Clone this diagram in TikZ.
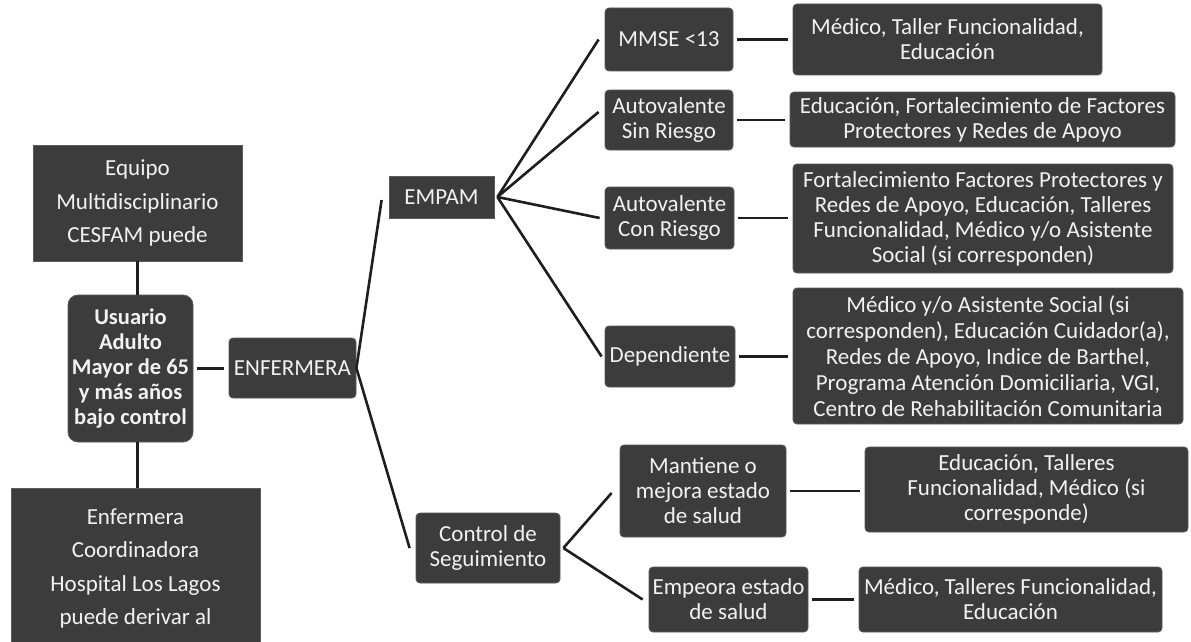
\documentclass[tikz,border=0pt]{standalone}
\usepackage{fontspec}
\setmainfont{Carlito}
\begin{document}
\begin{tikzpicture}[x=1pt,y=-1pt,
  box/.style={fill=boxgray, draw=boxedge, line width=0.8pt, text=boxtext,
    inner sep=0pt, align=center, rounded corners=4pt,
    font=\fontsize{23}{25}\selectfont},
  sharp/.style={rounded corners=0pt},
  wide/.style={font=\fontsize{23}{33.5}\selectfont},
  conn/.style={draw=linecol, line width=2.6pt},
  gap/.style={shorten <=4pt, shorten >=5pt}]
\definecolor{boxgray}{HTML}{3C3C3C}
\definecolor{boxedge}{HTML}{5A5A5A}
\definecolor{boxtext}{HTML}{F2F2F2}
\definecolor{linecol}{HTML}{1E1E1E}
\clip (0,0) rectangle (1191,642);
\fill[white] (0,0) rectangle (1191,642);

% left column
\node[box, sharp, wide, minimum width=209pt, minimum height=116pt] (equipo) at (137.5,203)
  {Equipo\\Multidisciplinario\\CESFAM puede};
\node[box, rounded corners=10pt, font=\fontsize{22.5}{25}\selectfont\bfseries,
  minimum width=125pt, minimum height=147pt] (usuario) at (130.5,368.5)
  {Usuario\\Adulto\\Mayor de 65\\y más años\\bajo control};
\node[box, sharp, wide, minimum width=249pt, minimum height=161pt] (enfcoord) at (135.5,568.5)
  {Enfermera\\Coordinadora\\Hospital Los Lagos\\puede derivar al};
\node[box, minimum width=127pt, minimum height=60pt] (enfermera) at (292.5,368) {ENFERMERA};

% second level
\node[box, sharp, minimum width=105pt, minimum height=42pt] (empam) at (441.5,197) {EMPAM};
\node[box, minimum width=144pt, minimum height=70pt] (control) at (488,548) {Control de\\Seguimiento};

% EMPAM categories
\node[box, minimum width=128pt, minimum height=63pt] (mmse) at (669,39.5) {MMSE <13};
\node[box, minimum width=128pt, minimum height=60pt] (sinriesgo) at (669,120) {Autovalente\\Sin Riesgo};
\node[box, minimum width=129pt, minimum height=62pt] (conriesgo) at (669.5,218) {Autovalente\\Con Riesgo};
\node[box, minimum width=130pt, minimum height=61pt] (dependiente) at (670,356.5) {Dependiente};

% follow-up outcomes
\node[box, minimum width=166pt, minimum height=92pt] (mantiene) at (703,491) {Mantiene o\\mejora estado\\de salud};
\node[box, minimum width=159pt, minimum height=65pt] (empeora) at (728.5,599.5) {Empeora estado\\de salud};

% actions
\node[box, minimum width=309pt, minimum height=71pt] (r1) at (947.5,39.5)
  {Médico, Taller Funcionalidad,\\Educación};
\node[box, minimum width=385pt, minimum height=55pt] (r2) at (982.5,119.5)
  {Educación, Fortalecimiento de Factores\\Protectores y Redes de Apoyo};
\node[box, minimum width=380pt, minimum height=109pt] (r3) at (983,218.5)
  {Fortalecimiento Factores Protectores y\\Redes de Apoyo, Educación, Talleres\\Funcionalidad, Médico y/o Asistente\\Social (si corresponden)};
\node[box, font=\fontsize{23}{26}\selectfont, minimum width=390pt, minimum height=136pt] (r4) at (988,356)
  {Médico y/o Asistente Social (si\\corresponden), Educación Cuidador(a),\\Redes de Apoyo, Indice de Barthel,\\Programa Atención Domiciliaria, VGI,\\Centro de Rehabilitación Comunitaria};
\node[box, minimum width=323pt, minimum height=85pt] (r5) at (1026.5,489.5)
  {Educación, Talleres\\Funcionalidad, Médico (si\\corresponde)};
\node[box, minimum width=303pt, minimum height=65pt] (r6) at (1010.5,599.5)
  {Médico, Talleres Funcionalidad,\\Educación};

% connectors, left column
\draw[conn] (equipo.south) -- (equipo.south |- usuario.north);
\draw[conn] (usuario.south -| equipo.south) -- (enfcoord.north -| equipo.south);
\draw[conn, gap] (usuario.east) -- (usuario.east -| enfermera.west);

% connectors from ENFERMERA
\draw[conn] (enfermera.east) -- ([xshift=-7pt,yshift=-3pt]empam.west);
\draw[conn] (enfermera.east) -- ([xshift=-6pt]control.west);

% EMPAM fan
\draw[conn] ([xshift=3pt]empam.east) -- ([xshift=-6pt]mmse.west);
\draw[conn] ([xshift=3pt]empam.east) -- ([xshift=-6pt,yshift=8pt]sinriesgo.west);
\draw[conn] ([xshift=3pt]empam.east) -- ([xshift=-5pt]conriesgo.west);
\draw[conn] ([xshift=3pt]empam.east) -- ([xshift=-3pt]dependiente.west);

% follow-up fan
\draw[conn] ([xshift=3pt]control.east) -- ([xshift=-8pt,yshift=-2pt]mantiene.west);
\draw[conn] ([xshift=3pt]control.east) -- ([xshift=-6pt]empeora.west);

% category to action
\draw[conn, gap] (mmse.east) -- (mmse.east -| r1.west);
\draw[conn, gap] (sinriesgo.east) -- (sinriesgo.east -| r2.west);
\draw[conn, gap] (conriesgo.east) -- (conriesgo.east -| r3.west);
\draw[conn, gap] (dependiente.east) -- (dependiente.east -| r4.west);
\draw[conn, gap] (mantiene.east) -- (mantiene.east -| r5.west);
\draw[conn, gap] (empeora.east) -- (empeora.east -| r6.west);
\end{tikzpicture}
\end{document}
